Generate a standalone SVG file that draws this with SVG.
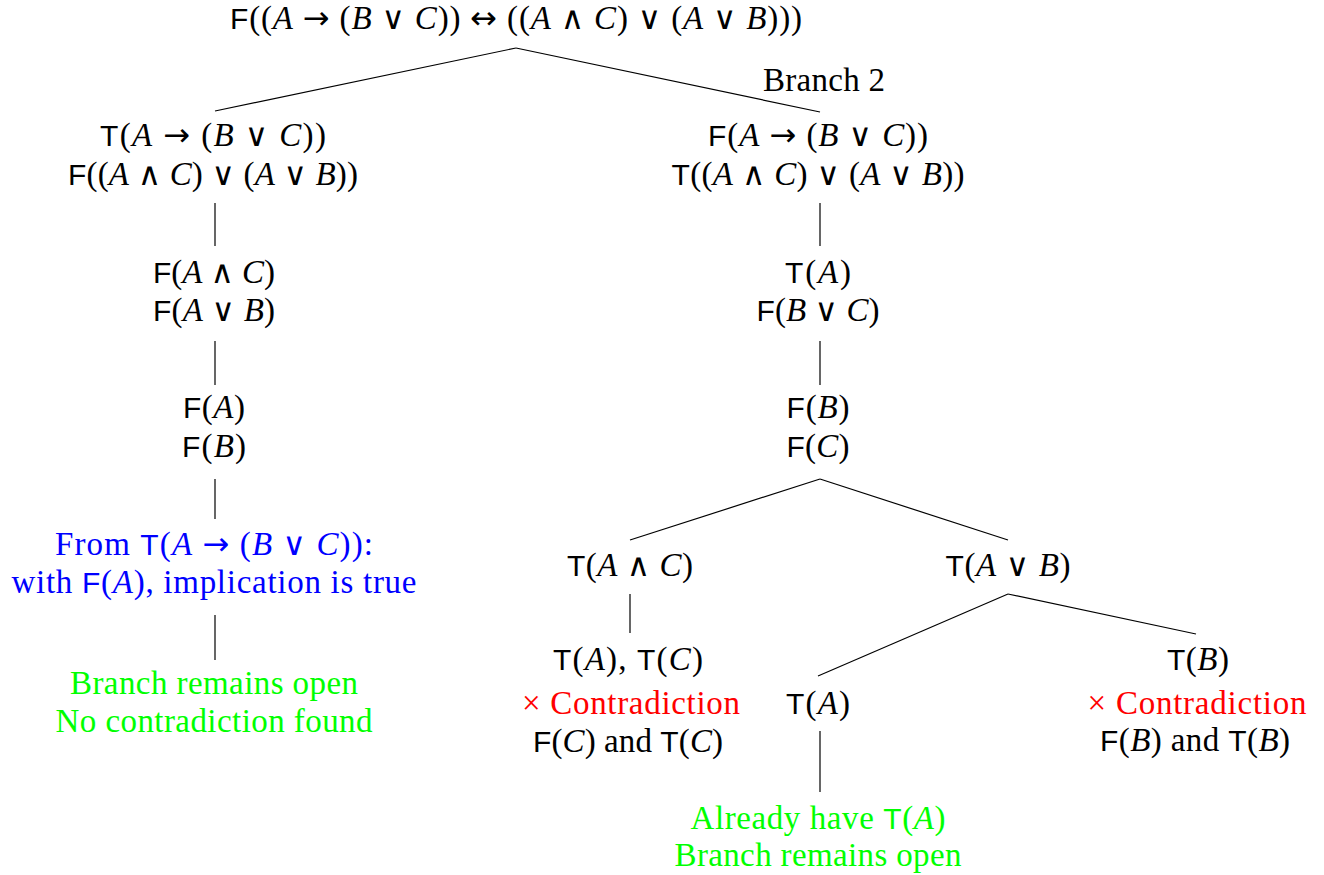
<svg xmlns="http://www.w3.org/2000/svg" width="1324" height="875" viewBox="0 0 1324 875">
<style>
text{font-family:"Liberation Serif","DejaVu Serif",serif;font-size:33px;fill:#000;text-anchor:middle}
.s{font-family:"Liberation Sans","DejaVu Sans",sans-serif;font-size:30px;font-style:normal}
.i{font-style:italic}
.o{font-family:"DejaVu Sans",sans-serif;font-size:32px}
.blue,.blue tspan{fill:#0000FF}
.green,.green tspan{fill:#00FF00}
.red{fill:#FF0000}
#edges line{stroke:#000;stroke-width:1.2}
</style>
<rect width="1324" height="875" fill="#fff"/>
<g id="edges">
<line x1="516" y1="48" x2="215" y2="111"/>
<line x1="516" y1="48" x2="820" y2="112"/>
<line x1="215" y1="203" x2="215" y2="246"/>
<line x1="215" y1="341" x2="215" y2="385"/>
<line x1="215" y1="479" x2="215" y2="519"/>
<line x1="215" y1="615" x2="215" y2="660"/>
<line x1="820" y1="203" x2="820" y2="246"/>
<line x1="820" y1="341" x2="820" y2="385"/>
<line x1="820" y1="479" x2="630" y2="540"/>
<line x1="820" y1="479" x2="1008" y2="540"/>
<line x1="630" y1="594" x2="630" y2="633"/>
<line x1="1008" y1="594" x2="818" y2="676"/>
<line x1="1008" y1="594" x2="1196" y2="634"/>
<line x1="820" y1="731" x2="820" y2="792"/>
</g>
<g id="root">
<text x="516" y="29" textLength="572"><tspan class="s">F</tspan>((<tspan class="i">A</tspan> <tspan class="o">→</tspan> (<tspan class="i">B</tspan> <tspan class="o">∨</tspan> <tspan class="i">C</tspan>)) <tspan class="o">↔</tspan> ((<tspan class="i">A</tspan> <tspan class="o">∧</tspan> <tspan class="i">C</tspan>) <tspan class="o">∨</tspan> (<tspan class="i">A</tspan> <tspan class="o">∨</tspan> <tspan class="i">B</tspan>)))</text>
</g>
<g id="branch2-label">
<text x="824" y="91" textLength="122">Branch 2</text>
</g>
<g id="L1">
<text x="213" y="146" textLength="226"><tspan class="s">T</tspan>(<tspan class="i">A</tspan> <tspan class="o">→</tspan> (<tspan class="i">B</tspan> <tspan class="o">∨</tspan> <tspan class="i">C</tspan>))</text>
<text x="213" y="185" textLength="290"><tspan class="s">F</tspan>((<tspan class="i">A</tspan> <tspan class="o">∧</tspan> <tspan class="i">C</tspan>) <tspan class="o">∨</tspan> (<tspan class="i">A</tspan> <tspan class="o">∨</tspan> <tspan class="i">B</tspan>))</text>
</g>
<g id="L2">
<text x="214" y="283" textLength="122"><tspan class="s">F</tspan>(<tspan class="i">A</tspan> <tspan class="o">∧</tspan> <tspan class="i">C</tspan>)</text>
<text x="214" y="321" textLength="122"><tspan class="s">F</tspan>(<tspan class="i">A</tspan> <tspan class="o">∨</tspan> <tspan class="i">B</tspan>)</text>
</g>
<g id="L3">
<text x="214" y="418" textLength="62"><tspan class="s">F</tspan>(<tspan class="i">A</tspan>)</text>
<text x="214" y="457" textLength="64"><tspan class="s">F</tspan>(<tspan class="i">B</tspan>)</text>
</g>
<g id="L4" class="blue">
<text class="blue" x="214" y="555" textLength="318">From <tspan class="s">T</tspan>(<tspan class="i">A</tspan> <tspan class="o">→</tspan> (<tspan class="i">B</tspan> <tspan class="o">∨</tspan> <tspan class="i">C</tspan>)):</text>
<text class="blue" x="214" y="593" textLength="405">with <tspan class="s">F</tspan>(<tspan class="i">A</tspan>), implication is true</text>
</g>
<g id="L5" class="green">
<text class="green" x="214" y="694" textLength="288">Branch remains open</text>
<text class="green" x="214" y="732" textLength="317">No contradiction found</text>
</g>
<g id="R1">
<text x="818" y="146" textLength="220"><tspan class="s">F</tspan>(<tspan class="i">A</tspan> <tspan class="o">→</tspan> (<tspan class="i">B</tspan> <tspan class="o">∨</tspan> <tspan class="i">C</tspan>))</text>
<text x="818" y="185" textLength="293"><tspan class="s">T</tspan>((<tspan class="i">A</tspan> <tspan class="o">∧</tspan> <tspan class="i">C</tspan>) <tspan class="o">∨</tspan> (<tspan class="i">A</tspan> <tspan class="o">∨</tspan> <tspan class="i">B</tspan>))</text>
</g>
<g id="R2">
<text x="818" y="283" textLength="66"><tspan class="s">T</tspan>(<tspan class="i">A</tspan>)</text>
<text x="818" y="321" textLength="123"><tspan class="s">F</tspan>(<tspan class="i">B</tspan> <tspan class="o">∨</tspan> <tspan class="i">C</tspan>)</text>
</g>
<g id="R3">
<text x="818" y="418" textLength="63"><tspan class="s">F</tspan>(<tspan class="i">B</tspan>)</text>
<text x="818" y="457" textLength="63"><tspan class="s">F</tspan>(<tspan class="i">C</tspan>)</text>
</g>
<g id="RA">
<text x="630" y="576" textLength="126"><tspan class="s">T</tspan>(<tspan class="i">A</tspan> <tspan class="o">∧</tspan> <tspan class="i">C</tspan>)</text>
</g>
<g id="RA1">
<text x="628" y="670" textLength="150"><tspan class="s">T</tspan>(<tspan class="i">A</tspan>), <tspan class="s">T</tspan>(<tspan class="i">C</tspan>)</text>
<text class="red" x="631" y="714" textLength="218">× Contradiction</text>
<text x="628" y="752" textLength="190"><tspan class="s">F</tspan>(<tspan class="i">C</tspan>) and <tspan class="s">T</tspan>(<tspan class="i">C</tspan>)</text>
</g>
<g id="RB">
<text x="1008" y="576" textLength="125"><tspan class="s">T</tspan>(<tspan class="i">A</tspan> <tspan class="o">∨</tspan> <tspan class="i">B</tspan>)</text>
</g>
<g id="RB1">
<text x="818" y="714" textLength="64"><tspan class="s">T</tspan>(<tspan class="i">A</tspan>)</text>
</g>
<g id="RB1-note" class="green">
<text class="green" x="818" y="829" textLength="255">Already have <tspan class="s">T</tspan>(<tspan class="i">A</tspan>)</text>
<text class="green" x="818" y="866" textLength="287">Branch remains open</text>
</g>
<g id="RB2">
<text x="1198" y="670" textLength="62"><tspan class="s">T</tspan>(<tspan class="i">B</tspan>)</text>
<text class="red" x="1197" y="714" textLength="219">× Contradiction</text>
<text x="1195" y="751" textLength="190"><tspan class="s">F</tspan>(<tspan class="i">B</tspan>) and <tspan class="s">T</tspan>(<tspan class="i">B</tspan>)</text>
</g>
</svg>
